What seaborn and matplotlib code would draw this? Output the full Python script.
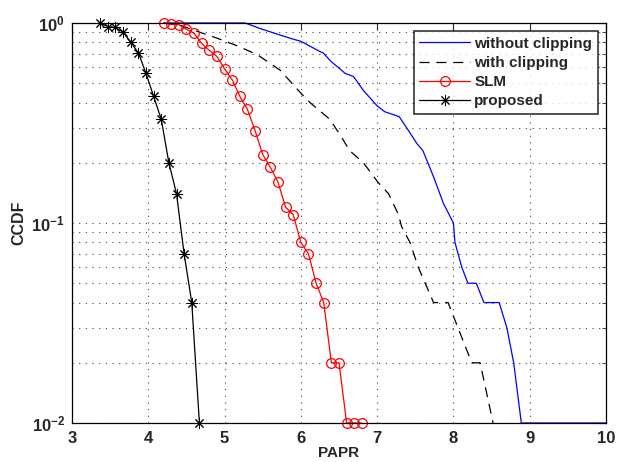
import matplotlib
matplotlib.use('Agg')
import matplotlib.pyplot as plt
import matplotlib.ticker as mticker
import numpy as np
import pandas as pd
import seaborn as sns

# without clipping (blue solid)
nc_x = [4.2, 5.27, 5.46, 5.73, 5.90, 6.0, 6.25, 6.29, 6.40, 6.49, 6.58, 6.69,
        6.82, 7.0, 7.10, 7.29, 7.41, 7.52, 7.60, 7.74, 7.87, 8.0, 8.02, 8.11,
        8.19, 8.30, 8.40, 8.60, 8.70, 8.79, 8.89, 10.0]
nc_y = [1.0, 1.0, 0.94, 0.87, 0.83, 0.81, 0.72, 0.71, 0.64, 0.60, 0.56, 0.54,
        0.46, 0.385, 0.36, 0.34, 0.29, 0.25, 0.23, 0.17, 0.125, 0.10, 0.08,
        0.06, 0.05, 0.05, 0.04, 0.04, 0.03, 0.02, 0.01, 0.01]

# with clipping (black dashed)
wc_x = [4.2, 4.4, 4.6, 4.90, 5.20, 5.44, 5.73, 5.99, 6.12, 6.38, 6.53, 6.64,
        6.82, 7.01, 7.15, 7.28, 7.32, 7.43, 7.54, 7.74, 7.93, 8.24, 8.35, 8.52]
wc_y = [1.0, 0.98, 0.92, 0.84, 0.76, 0.69, 0.58, 0.45, 0.40, 0.33, 0.27, 0.23,
        0.20, 0.16, 0.14, 0.11, 0.096, 0.08, 0.06, 0.04, 0.04, 0.02, 0.02, 0.01]

# SLM (red circles)
slm_x = [4.2, 4.3, 4.4, 4.5, 4.6, 4.7, 4.8, 4.9, 5.0, 5.1, 5.2, 5.3, 5.4, 5.5,
         5.6, 5.7, 5.8, 5.9, 6.0, 6.1, 6.2, 6.3, 6.4, 6.5, 6.6, 6.7, 6.8]
slm_y = [1.0, 0.985, 0.98, 0.93, 0.89, 0.79, 0.73, 0.68, 0.59, 0.52, 0.43,
         0.37, 0.29, 0.22, 0.19, 0.16, 0.12, 0.11, 0.08, 0.07, 0.05, 0.04,
         0.02, 0.02, 0.01, 0.01, 0.01]

# proposed (black asterisks)
prop_x = [3.37, 3.47, 3.57, 3.67, 3.77, 3.87, 3.97, 4.07, 4.17, 4.27, 4.37,
          4.47, 4.57, 4.67]
prop_y = [1.0, 0.96, 0.95, 0.90, 0.80, 0.71, 0.56, 0.43, 0.33, 0.20, 0.14,
          0.07, 0.04, 0.01]

sns.set_style('white')
plt.rcParams['font.family'] = ['Liberation Sans', 'DejaVu Sans']
plt.rcParams['font.weight'] = 'bold'

fig = plt.figure(figsize=(6.18, 4.62), dpi=100)
ax = fig.add_axes([72 / 618, 39 / 462, 534 / 618, 400 / 462])

asterisk = (8, 2, 0)
sns.lineplot(x=nc_x, y=nc_y, ax=ax, color='#0000ff', lw=0.9, sort=False,
             label='without clipping', clip_on=False)
sns.lineplot(x=wc_x, y=wc_y, ax=ax, color='black', lw=0.9, sort=False,
             dashes=False, label='with clipping', linestyle=(0, (8, 5.5)))
sns.lineplot(x=slm_x, y=slm_y, ax=ax, color='red', lw=0.9, sort=False,
             marker='o', markersize=7, markerfacecolor='none',
             markeredgecolor='red', markeredgewidth=0.9, label='SLM',
             clip_on=False)
sns.lineplot(x=prop_x, y=prop_y, ax=ax, color='black', lw=0.9, sort=False,
             marker=asterisk, markersize=8, markeredgecolor='black',
             markeredgewidth=0.7, label='proposed', clip_on=False)

ax.set_yscale('log')
ax.set_xlim(3, 10)
ax.set_ylim(0.01, 1)
ax.xaxis.set_major_locator(mticker.MultipleLocator(1))
ax.yaxis.set_major_locator(mticker.LogLocator(base=10))
ax.yaxis.set_minor_locator(mticker.LogLocator(base=10, subs=np.arange(2, 10)))
ax.yaxis.set_minor_formatter(mticker.NullFormatter())

ax.grid(True, which='major', axis='x', color='#404040', linestyle=(0, (1, 5)),
        lw=0.8)
ax.grid(True, which='both', axis='y', color='#404040', linestyle=(0, (1, 5)),
        lw=0.8)
ax.tick_params(which='both', direction='in', top=True, right=True,
               labelsize=12)
ax.tick_params(axis='x', which='major', pad=6)
ax.tick_params(axis='y', which='major', pad=5)
ax.tick_params(which='major', length=5, width=0.8)
ax.tick_params(which='minor', length=3, width=0.6)
for lab in ax.get_xticklabels() + ax.get_yticklabels():
    lab.set_fontweight('bold')
for sp in ax.spines.values():
    sp.set_color('black')
    sp.set_linewidth(0.9)

ax.set_xlabel('PAPR', fontsize=11, fontweight='bold', labelpad=0)
ax.set_ylabel('CCDF', fontsize=11.5, fontweight='bold', labelpad=4)

leg = ax.legend(loc='upper right', fontsize=11, frameon=True, fancybox=False,
                handlelength=3.3, borderpad=0.35, labelspacing=0.34,
                handletextpad=0.3, borderaxespad=0.55)
leg.get_frame().set_edgecolor('black')
leg.get_frame().set_linewidth(1.2)
for t in leg.get_texts():
    t.set_fontweight('bold')

fig.savefig('out.png', dpi=100)
